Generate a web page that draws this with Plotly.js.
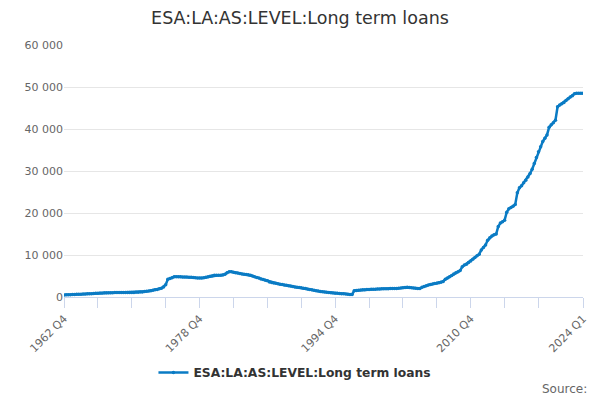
<!DOCTYPE html>
<html>
<head>
<meta charset="utf-8">
<script src="https://cdn.plot.ly/plotly-3.0.1.min.js"></script>
<style>html,body{margin:0;padding:0;background:#fff}#chart{width:600px;height:400px}</style>
</head>
<body>
<div id="chart"></div>
<script>
// Series values by year (quarterly)
var v1962 = [500];
var v1963 = [520, 540, 560, 580];
var v1964 = [600, 630, 650, 680];
var v1965 = [700, 720, 750, 780];
var v1966 = [800, 850, 880, 920];
var v1967 = [950, 980, 1000, 1010];
var v1968 = [1020, 1030, 1040, 1050];
var v1969 = [1060, 1060, 1070, 1070];
var v1970 = [1080, 1080, 1090, 1100];
var v1971 = [1100, 1120, 1150, 1180];
var v1972 = [1220, 1280, 1350, 1420];
var v1973 = [1500, 1600, 1700, 1800];
var v1974 = [1950, 2100, 2400, 2900];
var v1975 = [4200, 4400, 4600, 4800];
var v1976 = [4800, 4800, 4800, 4750];
var v1977 = [4750, 4750, 4700, 4700];
var v1978 = [4650, 4600, 4550, 4500];
var v1979 = [4550, 4600, 4700, 4800];
var v1980 = [4950, 5050, 5150, 5200];
var v1981 = [5200, 5200, 5250, 5400];
var v1982 = [5800, 6000, 6000, 5900];
var v1983 = [5800, 5700, 5600, 5500];
var v1984 = [5400, 5350, 5300, 5200];
var v1985 = [5000, 4800, 4650, 4500];
var v1986 = [4300, 4150, 4000, 3850];
var v1987 = [3600, 3450, 3350, 3250];
var v1988 = [3150, 3050, 2950, 2850];
var v1989 = [2800, 2700, 2600, 2500];
var v1990 = [2400, 2300, 2250, 2200];
var v1991 = [2100, 2000, 1900, 1800];
var v1992 = [1700, 1600, 1500, 1400];
var v1993 = [1300, 1250, 1200, 1150];
var v1994 = [1050, 1000, 950, 900];
var v1995 = [880, 850, 800, 750];
var v1996 = [700, 650, 620, 600];
var v1997 = [1500, 1550, 1600, 1650];
var v1998 = [1700, 1750, 1800, 1800];
var v1999 = [1850, 1850, 1850, 1900];
var v2000 = [1900, 1950, 1950, 1950];
var v2001 = [1950, 2000, 2000, 2000];
var v2002 = [2050, 2100, 2150, 2200];
var v2003 = [2250, 2300, 2250, 2200];
var v2004 = [2150, 2100, 2050, 2050];
var v2005 = [2300, 2500, 2700, 2850];
var v2006 = [3000, 3100, 3200, 3300];
var v2007 = [3400, 3500, 3700, 4200];
var v2008 = [4500, 4800, 5100, 5500];
var v2009 = [5800, 6000, 6300, 7200];
var v2010 = [7600, 7800, 8200, 8600];
var v2011 = [9000, 9400, 9800, 10200];
var v2012 = [11200, 11800, 12400, 13500];
var v2013 = [14100, 14500, 14800, 15000];
var v2014 = [16800, 17600, 17900, 18300];
var v2015 = [20200, 21000, 21300, 21600];
var v2016 = [22000, 24800, 26000, 26500];
var v2017 = [27200, 27800, 28600, 29400];
var v2018 = [30400, 31800, 33200, 34600];
var v2019 = [35800, 37000, 37800, 38600];
var v2020 = [40400, 41000, 41500, 42100];
var v2021 = [45300, 45700, 46000, 46300];
var v2022 = [46800, 47200, 47600, 47900];
var v2023 = [48400, 48500, 48500, 48500];
var v2024 = [48500];

var values = [].concat(v1962, v1963, v1964, v1965, v1966, v1967, v1968, v1969, v1970,
  v1971, v1972, v1973, v1974, v1975, v1976, v1977, v1978, v1979, v1980, v1981, v1982,
  v1983, v1984, v1985, v1986, v1987, v1988, v1989, v1990, v1991, v1992, v1993, v1994,
  v1995, v1996, v1997, v1998, v1999, v2000, v2001, v2002, v2003, v2004, v2005, v2006,
  v2007, v2008, v2009, v2010, v2011, v2012, v2013, v2014, v2015, v2016, v2017, v2018,
  v2019, v2020, v2021, v2022, v2023, v2024);

// Quarter categories, 1962 Q4 .. 2024 Q1
var categories = ['1962 Q4'];
for (var y = 1963; y <= 2023; y++) { for (var q = 1; q <= 4; q++) categories.push(y + ' Q' + q); }
categories.push('2024 Q1');

var labelledTicks = ['1962 Q4', '1978 Q4', '1994 Q4', '2010 Q4', '2024 Q1'];
var tickCats = [];
for (var k = 0; k < 240; k += 16) tickCats.push(categories[k]);
tickCats.push('2024 Q1');
var tickText = tickCats.map(function(c){ return labelledTicks.indexOf(c) >= 0 ? c : ''; });

var seriesName = 'ESA:LA:AS:LEVEL:Long term loans';

var trace = {
  x: categories,
  y: values,
  type: 'scatter',
  mode: 'lines+markers',
  name: seriesName,
  line: {color: '#0a7bc4', width: 2.5},
  marker: {color: '#0a7bc4', size: 3.5},
  hoverinfo: 'x+y'
};

var layout = {
  width: 600, height: 400,
  paper_bgcolor: '#ffffff', plot_bgcolor: '#ffffff',
  font: {family: 'DejaVu Sans, sans-serif', color: '#666666', size: 11},
  separators: '. ',
  margin: {l: 64, r: 17, t: 45, b: 103},
  title: {text: seriesName, font: {family: 'DejaVu Sans, sans-serif', size: 17.5, color: '#333333'},
          x: 0.5, xanchor: 'center', y: 0.955, yanchor: 'middle', yref: 'container'},
  xaxis: {
    type: 'category',
    range: [0, categories.length - 1],
    tickmode: 'array', tickvals: tickCats, ticktext: tickText,
    tickangle: -45, ticks: 'outside', ticklen: 10, tickcolor: '#ccd6eb', tickwidth: 1,
    showline: true, linecolor: '#ccd6eb', linewidth: 1,
    showgrid: false, zeroline: false,
    tickfont: {size: 11, color: '#666666'}
  },
  yaxis: {
    range: [0, 60000], tickvals: [0, 10000, 20000, 30000, 40000, 50000, 60000],
    tickformat: ',d',
    showgrid: true, gridcolor: '#e6e6e6', gridwidth: 1,
    zeroline: false, showline: false, ticks: '', ticklen: 0,
    tickfont: {size: 11, color: '#666666'}
  },
  showlegend: true,
  legend: {orientation: 'h', x: 0.445, xanchor: 'center', y: -0.30, yanchor: 'middle',
           font: {size: 12.3, color: '#333333', weight: 700}, itemwidth: 30},
  annotations: [{
    text: 'Source:', xref: 'paper', yref: 'paper', x: 1.012, y: -0.365,
    xanchor: 'right', yanchor: 'middle', showarrow: false,
    font: {size: 12, color: '#666666'}
  }]
};

Plotly.newPlot('chart', [trace], layout, {displayModeBar: false, staticPlot: true});
</script>
</body>
</html>
